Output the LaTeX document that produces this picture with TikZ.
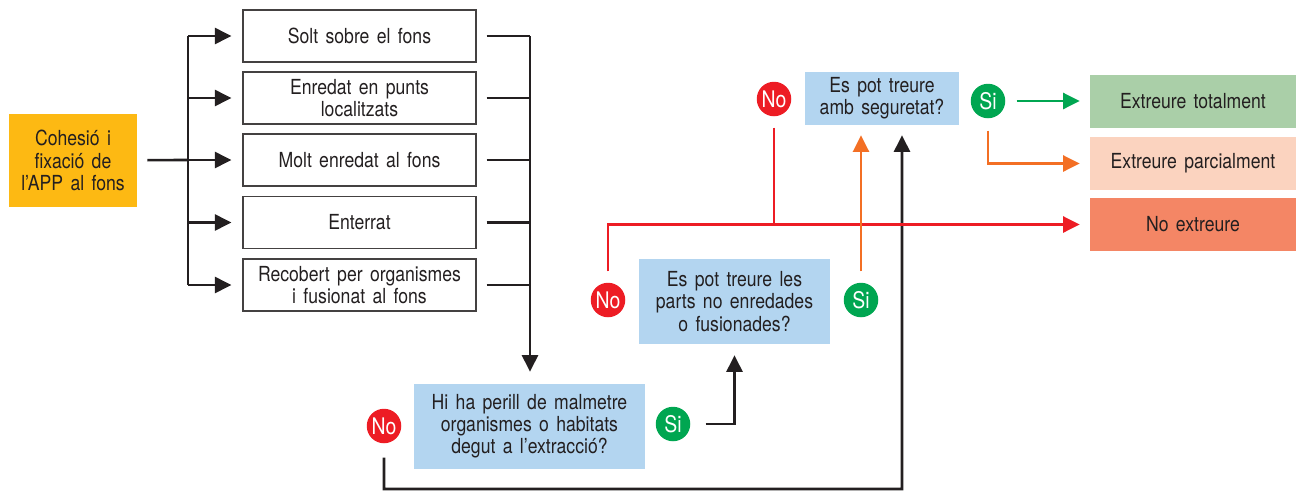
\documentclass[tikz,border=0pt]{standalone}
\usepackage{fontspec}
\setmainfont[FakeStretch=0.85,WordSpace=1.5]{TeX Gyre Heros}
\usetikzlibrary{arrows.meta}

\definecolor{cohyellow}{HTML}{FDB913}
\definecolor{qblue}{HTML}{B3D5F0}
\definecolor{nored}{HTML}{ED1C24}
\definecolor{sigreen}{HTML}{00A651}
\definecolor{totgreen}{HTML}{AACFA8}
\definecolor{parpeach}{HTML}{FBD3BF}
\definecolor{nosalmon}{HTML}{F48665}
\definecolor{flaming}{HTML}{F36F24}
\definecolor{ink}{HTML}{231F20}

\begin{document}
\begin{tikzpicture}[x=0.2mm,y=-0.2mm,text=ink,
    font=\fontsize{11.8}{12.6}\selectfont,
    >={Triangle[length=3.3mm,width=3.2mm]},
    state/.style={draw=ink!85,line width=0.7pt,minimum width=46.6mm,minimum height=10.4mm,align=center,inner sep=1pt},
    quest/.style={fill=qblue,align=center,inner sep=0pt},
    result/.style={minimum width=41.2mm,minimum height=10.6mm,inner sep=0pt},
    nocirc/.style={circle,fill=nored,text=white,minimum size=6.9mm,inner sep=0pt,font=\fontsize{13}{13}\selectfont},
    sicirc/.style={circle,fill=sigreen,text=white,minimum size=6.9mm,inner sep=0pt,font=\fontsize{13}{13}\selectfont},
    flow/.style={ink,line width=1.5pt},
    redflow/.style={nored,line width=1.3pt},
    orflow/.style={flaming,line width=1.3pt},
    grflow/.style={sigreen,line width=1.3pt}]

    \useasboundingbox (0,0) rectangle (1300,491);

    % Starting situation
    \node [fill=cohyellow,minimum width=25.6mm,minimum height=18.6mm,align=center,inner sep=0pt]
        (coh) at (73,160.5) {Cohesió i\\fixació de\\l’APP al fons};

    % States of the gear on the seabed
    \node [state] (solt)  at (359.5,36)    {Solt sobre el fons};
    \node [state] (enred) at (359.5,98)    {Enredat en punts\\localitzats};
    \node [state] (molt)  at (359.5,160)   {Molt enredat al fons};
    \node [state] (enter) at (359.5,222.5) {Enterrat};
    \node [state] (recob) at (359.5,285)   {Recobert per organismes\\i fusionat al fons};

    % Questions
    \node [quest,minimum width=46.2mm,minimum height=17mm] (qperill) at (529.5,426.5)
        {Hi ha perill de malmetre\\organismes o habitats\\degut a l’extracció?};
    \node [quest,minimum width=38.2mm,minimum height=17mm] (qparts) at (734.5,301.5)
        {Es pot treure les\\parts no enredades\\o fusionades?};
    \node [quest,minimum width=30.8mm,minimum height=10.6mm] (qsegur) at (882,98.5)
        {Es pot treure\\amb seguretat?};

    % Answers
    \node [nocirc] (noA) at (384,426) {No};
    \node [sicirc] (siA) at (673,424) {Si};
    \node [nocirc] (noB) at (608,300) {No};
    \node [sicirc] (siB) at (861,300) {Si};
    \node [nocirc] (noC) at (774,99)  {No};
    \node [sicirc] (siC) at (988,101) {Si};

    % Outcomes
    \node [result,fill=totgreen] (tot) at (1193,101.5) {Extreure totalment};
    \node [result,fill=parpeach] (par) at (1193,163.5) {Extreure parcialment};
    \node [result,fill=nosalmon] (nex) at (1193,224.5) {No extreure};

    % Fan out to the states
    \coordinate (split) at (188,160);
    \draw [flow,shorten <=2mm] (coh) -- (split);
    \draw [flow] (split |- solt) -- (split |- recob);
    \foreach \b in {solt,enred,molt,enter,recob}
        \draw [flow,->,shorten >=2.2mm] (split |- \b) -- (\b);

    % Gather into the first question
    \coordinate (gather) at (530,36);
    \foreach \b in {solt,enred,molt,enter,recob}
        \draw [flow,shorten <=2mm] (\b) -- (gather |- \b);
    \draw [flow,->,shorten >=2.4mm] (gather |- solt) -- (gather |- qperill.north);

    % Danger: yes -> parts, no -> safety
    \draw [flow,->,shorten <=3mm,shorten >=2.2mm] (siA) -| (qparts.south);
    \coordinate (low) at (902,489);
    \draw [flow,->,shorten <=2.8mm,shorten >=2mm] (noA) |- (low) -- ([xshift=4mm]qsegur.south);

    % Parts
    \draw [redflow,->,shorten <=2.2mm,shorten >=2mm] (noB) |- (nex);
    \draw [orflow,->,shorten <=2.2mm,shorten >=2mm] (siB) -- (siB |- qsegur.south);

    % Safety
    \draw [redflow,shorten <=2.2mm] (noC) -- (noC |- nex);
    \draw [grflow,->,shorten <=2.2mm,shorten >=2mm] (siC) -- (siC -| tot.west);
    \draw [orflow,->,shorten <=2.4mm,shorten >=2mm] (siC) |- (par);

\end{tikzpicture}
\end{document}
